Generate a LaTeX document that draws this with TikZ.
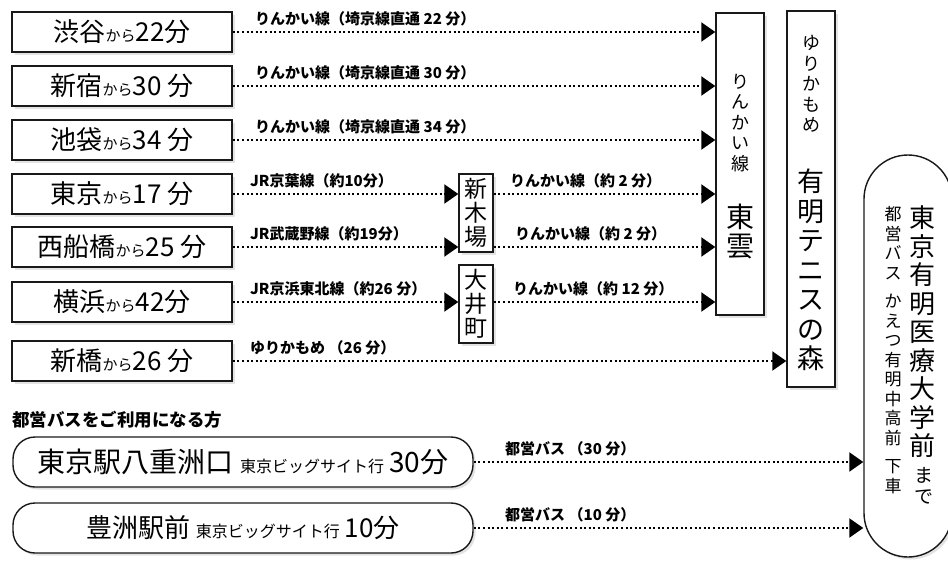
\documentclass[tikz,border=0pt]{standalone}
\usepackage{fontspec}
\setmainfont{Noto Sans CJK JP}
\usetikzlibrary{arrows.meta,shadows}
\newcommand\jfs[2]{\fontsize{#1}{#2}\selectfont}
\newcommand\bigj{\jfs{26}{30}}
\newcommand\smallj{\jfs{15}{18}}
\tikzset{
  boxframe/.style={draw=black!90, line width=1.4pt, fill=white, inner sep=0pt,
    drop shadow={opacity=0.22,shadow xshift=2.5pt,shadow yshift=-2.5pt}},
  lbox/.style={boxframe, minimum width=220pt, minimum height=40pt},
  busbox/.style={boxframe, rounded corners=22pt, minimum width=460pt, minimum height=50pt},
  vt/.style={align=center, inner sep=0pt},
  conn/.style={line width=2.1pt, dash pattern=on 2.1pt off 2.5pt, -{Triangle[length=14pt,width=19pt]}},
  lbl/.style={anchor=base west, inner sep=0pt, font=\jfs{15}{17}\bfseries},
}
\begin{document}
\begin{tikzpicture}[x=1pt,y=-1pt]
\useasboundingbox (0,0) rectangle (948,560);
\clip (0,0) rectangle (948,560);
\fill[white] (0,0) rectangle (948,560);

% destination columns
\node[boxframe, minimum width=48pt, minimum height=302pt] (toun) at (740,164) {};
\node[vt, font=\jfs{18}{20.5}] (tounA) at (740,123) {り\\ん\\か\\い\\線};
\node[vt, font=\jfs{28}{29}] (tounB) at (740,231) {東\\雲};

\node[boxframe, minimum width=48pt, minimum height=376pt] (ariake) at (811,199) {};
\node[vt, font=\jfs{18}{20.5}] (ariakeA) at (811,84) {ゆ\\り\\か\\も\\め};
\node[vt, font=\jfs{27}{29.5}] (ariakeB) at (811,270) {有\\明\\テ\\ニ\\ス\\の\\森};

\node[boxframe, minimum width=34pt, minimum height=78pt, align=center, font=\jfs{23}{24}] (shinkiba) at (476,213) {新\\木\\場};
\node[boxframe, minimum width=34pt, minimum height=78pt, align=center, font=\jfs{23}{24}] (oimachi) at (476,304) {大\\井\\町};

\node[boxframe, rounded corners=44pt, minimum width=88pt, minimum height=402pt] (dest) at (908,356) {};
\node[vt, font=\jfs{26}{28.5}] (destA) at (922,332) {東\\京\\有\\明\\医\\療\\大\\学\\前};
\node[vt, font=\jfs{19}{21}] (destB) at (924,486) {ま\\で};
\node[vt, font=\jfs{17}{19.5}] (destC) at (893,350) {都\\営\\バ\\ス\\[9pt]か\\え\\つ\\有\\明\\中\\高\\前\\[9pt]下\\車};

% origin boxes
\node[lbox] (shibuya) at (122,32) {\bigj 渋谷\smallj から\bigj 22分};
\node[lbox] (shinjuku) at (122,86) {\bigj 新宿\smallj から\bigj 30 分};
\node[lbox] (ikebukuro) at (122,140) {\bigj 池袋\smallj から\bigj 34 分};
\node[lbox] (tokyo) at (122,194) {\bigj 東京\smallj から\bigj 17 分};
\node[lbox] (funabashi) at (122,247) {\bigj 西船橋\smallj から\bigj 25 分};
\node[lbox] (yokohama) at (122,302) {\bigj 横浜\smallj から\bigj 42分};
\node[lbox] (shimbashi) at (122,361) {\bigj 新橋\smallj から\bigj 26 分};

\node[anchor=west, inner sep=0pt, font=\jfs{17.5}{20}\bfseries] (busnote) at (12,420) {都営バスをご利用になる方};
\node[busbox] (bus1) at (243,462) {\jfs{28}{32}東京駅八重洲口 \jfs{16}{18}東京ビッグサイト行\hspace{5pt}\jfs{28}{32}30分};
\node[busbox] (bus2) at (243,528) {\jfs{26}{30}豊洲駅前 \jfs{16}{18}東京ビッグサイト行\hspace{5pt}\jfs{26}{30}10分};

% connectors
\draw[conn] (shibuya.east) -- (shibuya.east -| toun.west);
\draw[conn] (shinjuku.east) -- (shinjuku.east -| toun.west);
\draw[conn] (ikebukuro.east) -- (ikebukuro.east -| toun.west);
\draw[conn] (tokyo.east) -- (tokyo.east -| shinkiba.west);
\draw[conn] (funabashi.east) -- (funabashi.east -| shinkiba.west);
\draw[conn] (yokohama.east) -- (yokohama.east -| oimachi.west);
\draw[conn] (shimbashi.east) -- (shimbashi.east -| ariake.west);
\draw[conn] (tokyo.east -| shinkiba.east) -- (tokyo.east -| toun.west);
\draw[conn] (funabashi.east -| shinkiba.east) -- (funabashi.east -| toun.west);
\draw[conn] (yokohama.east -| oimachi.east) -- (yokohama.east -| toun.west);
\draw[conn] (bus1.east) -- (bus1.east -| dest.west);
\draw[conn] (bus2.east) -- (bus2.east -| dest.west);

% labels
\node[lbl] (l1) at (255,24) {りんかい線（埼京線直通 22 分）};
\node[lbl] (l2) at (255,78) {りんかい線（埼京線直通 30 分）};
\node[lbl] (l3) at (255,132) {りんかい線（埼京線直通 34 分）};
\node[lbl] (l4) at (250,186) {JR京葉線（約10分）};
\node[lbl] (l5) at (250,239) {JR武蔵野線（約19分）};
\node[lbl] (l6) at (250,294) {JR京浜東北線（約26 分）};
\node[lbl] (l7) at (250,353) {ゆりかもめ （26 分）};
\node[lbl] (m4) at (510,186) {りんかい線（約 2 分）};
\node[lbl] (m5) at (515,239) {りんかい線（約 2 分）};
\node[lbl] (m6) at (513,294) {りんかい線（約 12 分）};
\node[lbl] (b1) at (505,454) {都営バス （30 分）};
\node[lbl] (b2) at (505,520) {都営バス （10 分）};
\end{tikzpicture}
\end{document}
